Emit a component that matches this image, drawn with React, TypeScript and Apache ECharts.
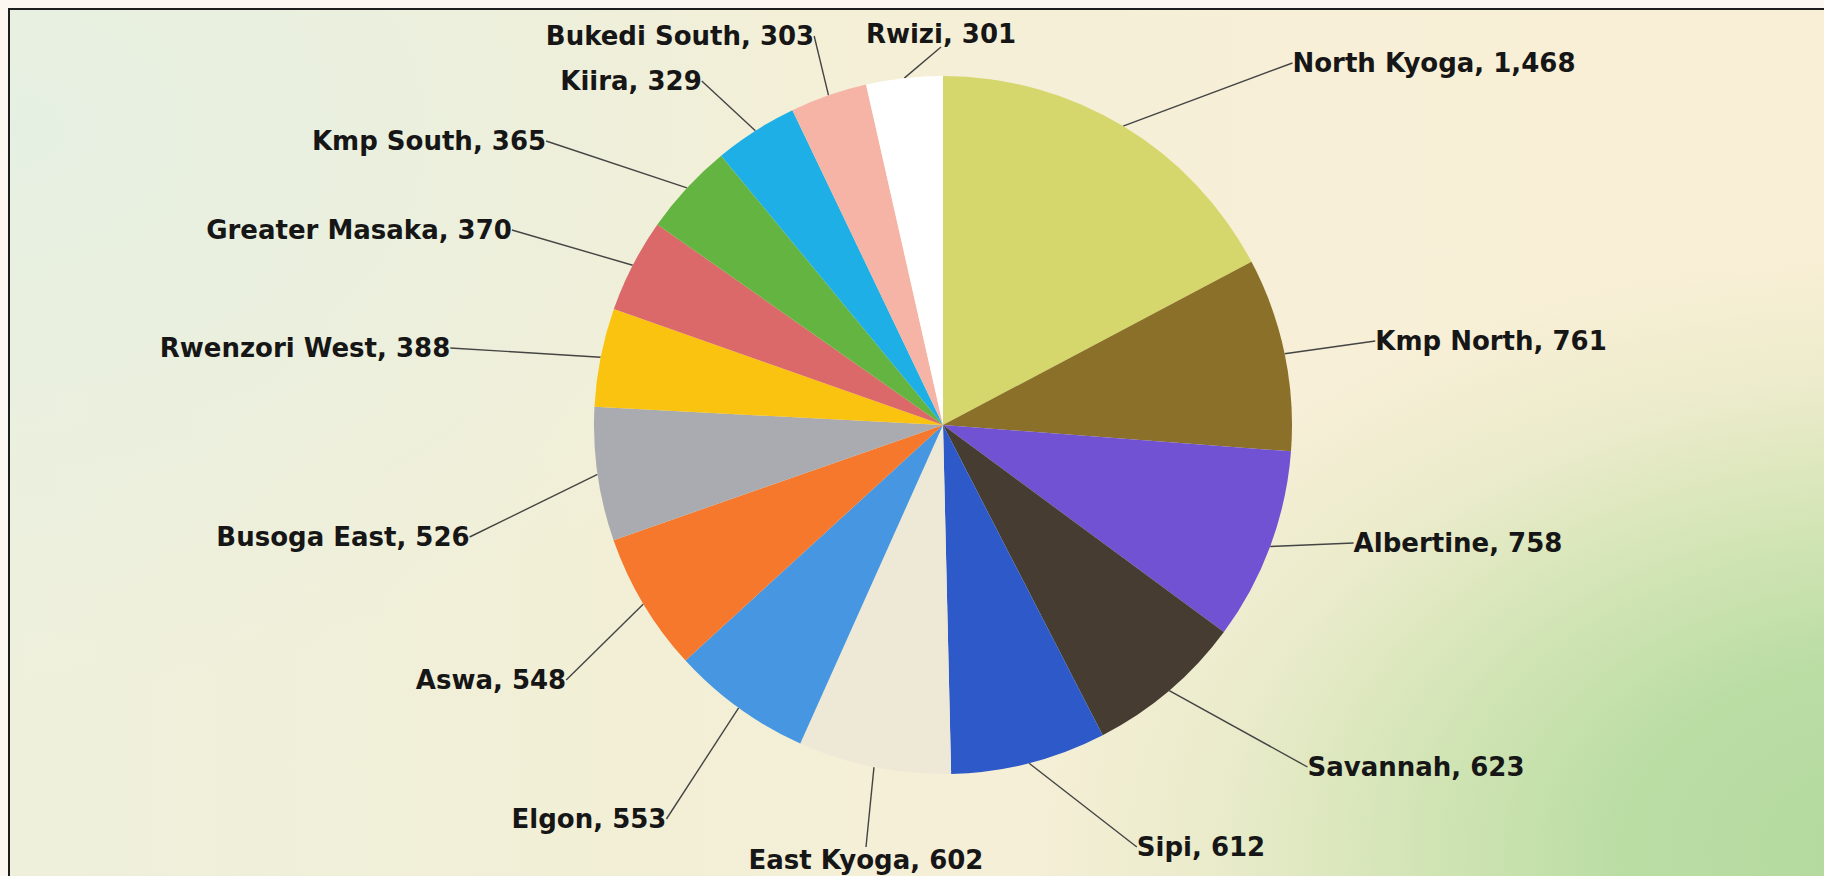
import React, { useEffect, useRef } from 'react';
import * as echarts from 'echarts';

const regions = [
  'North Kyoga', 'Kmp North', 'Albertine', 'Savannah', 'Sipi', 'East Kyoga', 'Elgon', 'Aswa',
  'Busoga East', 'Rwenzori West', 'Greater Masaka', 'Kmp South', 'Kiira', 'Bukedi South', 'Rwizi',
];
const values = [1468, 761, 758, 623, 612, 602, 553, 548, 526, 388, 370, 365, 329, 303, 301];

const sliceColors = [
  '#d5d66c', '#8a7029', '#7052d2', '#463c32', '#2d5ac8', '#eee8d6', '#4696e1', '#f5782d',
  '#aaabb0', '#f9c30f', '#dc6969', '#64b441', '#1eafe6', '#f5b4a5', '#ffffff',
];

// label box centres (layout only, px in the chart)
const labelCenters: [number, number][] = [
  [1434, 63], [1491, 341], [1458, 543], [1416, 767], [1201, 847], [866, 860], [589, 819], [491, 680],
  [343, 537], [305, 348], [359, 230], [429, 141], [631, 81], [680, 36], [941, 34],
];

const PIE_CENTER: [number, number] = [943, 425];
const PIE_RADIUS = 349;

export default function App() {
  const ref = useRef<HTMLDivElement>(null);
  useEffect(() => {
    if (!ref.current) return;
    const chart = echarts.init(ref.current, null, { renderer: 'svg' });
    chart.setOption({
      animation: false,
      backgroundColor: 'transparent',
      series: [
        {
          type: 'pie',
          center: PIE_CENTER,
          radius: PIE_RADIUS,
          startAngle: 90,
          clockwise: true,
          avoidLabelOverlap: false,
          emphasis: { disabled: true },
          itemStyle: { borderWidth: 0 },
          data: regions.map((name, i) => ({
            name,
            value: values[i],
            itemStyle: { color: sliceColors[i] },
          })),
          label: {
            show: true,
            position: 'outside',
            formatter: (p: any) => `${p.name}, ${Number(p.value).toLocaleString('en-US')}`,
            fontFamily: 'DejaVu Sans',
            fontWeight: 'bold',
            fontSize: 26,
            color: '#161616',
          },
          labelLine: {
            show: true,
            length: 20,
            length2: 0,
            smooth: false,
            lineStyle: { color: '#444444', width: 1.4 },
          },
          labelLayout: (params: any) => {
            const c = labelCenters[params.dataIndex];
            return { x: c[0], y: c[1], align: 'center', verticalAlign: 'middle' };
          },
        },
      ],
    });
    return () => chart.dispose();
  }, []);

  const bg = [
    'radial-gradient(ellipse 900px 600px at 1900px 840px, rgba(178,217,158,1) 0%, rgba(186,221,164,1) 32%, rgba(198,225,170,0.75) 55%, rgba(212,229,182,0.35) 78%, rgba(220,232,190,0) 100%)',
    'radial-gradient(ellipse 820px 560px at 0px 120px, rgba(230,240,226,1) 0%, rgba(232,240,224,0.7) 45%, rgba(235,240,222,0) 100%)',
    'linear-gradient(90deg, #eef0dc 0%, #f2efd7 30%, #f6efd7 60%, #f9efd6 100%)',
  ].join(', ');

  return (
    <div style={{ position: 'fixed', left: 0, top: 0, width: 1824, height: 876, background: '#fcf8f1', overflow: 'hidden' }}>
      <div
        style={{
          position: 'absolute', left: 8, top: 8, right: 0, bottom: 0,
          borderLeft: '2px solid #1e1e1e', borderTop: '2px solid #1e1e1e',
          background: bg,
        }}
      />
      <div ref={ref} style={{ position: 'absolute', left: 0, top: 0, width: 1824, height: 876 }} />
    </div>
  );
}
